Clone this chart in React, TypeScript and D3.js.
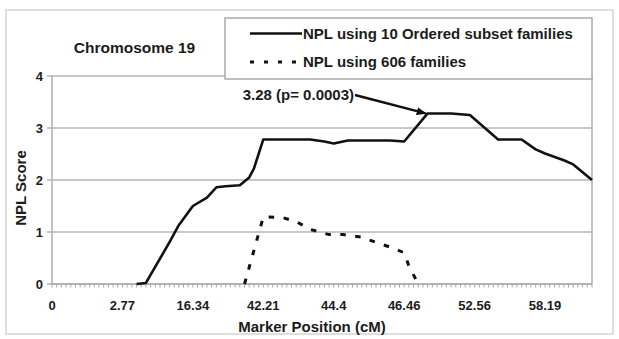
import React from "react";
import * as d3 from "d3";

const categoryCount = 116;
const tickIdx = [0, 15, 30, 45, 60, 75, 90, 105];
const tickLabels = ["0", "2.77", "16.34", "42.21", "44.4", "46.46", "52.56", "58.19"];
const yTicks = [0, 1, 2, 3, 4];

const solidIdx = [18, 20, 25, 27, 30, 33, 35, 37, 40, 42, 43, 45, 55, 58, 60, 63, 72, 75, 80, 85, 89, 95, 100, 103, 105, 109, 111, 115];
const solidVal = [0, 0.02, 0.8, 1.13, 1.5, 1.66, 1.86, 1.88, 1.9, 2.05, 2.22, 2.78, 2.78, 2.74, 2.7, 2.76, 2.76, 2.74, 3.28, 3.28, 3.25, 2.78, 2.78, 2.59, 2.51, 2.38, 2.3, 2.0];

const dashIdx = [41, 45, 49, 52, 55, 59, 62, 66, 69, 73, 75, 76, 78];
const dashVal = [0, 1.29, 1.28, 1.2, 1.05, 0.95, 0.95, 0.9, 0.8, 0.68, 0.6, 0.35, 0];

const seriesNames = ["NPL using 10 Ordered subset families", "NPL using 606 families"];
const peakIndex = 80;
const peakValue = 3.28;
const annotation = "3.28 (p= 0.0003)";

const W = 619;
const H = 339;
const left = 52, right = 592, top = 76, bottom = 284;
const FONT = "'Liberation Sans', Arial, Helvetica, sans-serif";
const GRID = "#b4b4b4";
const TXT = "#1c1c1c";

export default function App() {
  const x = d3.scaleLinear().domain([0, categoryCount - 1]).range([left, right]);
  const y = d3.scaleLinear().domain([0, 4]).range([bottom, top]);
  const line = d3.line<[number, number]>().x((d) => x(d[0])).y((d) => y(d[1]));
  const solidPts = solidIdx.map((v, i) => [v, solidVal[i]] as [number, number]);
  const dashPts = dashIdx.map((v, i) => [v, dashVal[i]] as [number, number]);
  const cats = d3.range(categoryCount);

  const tipX = x(peakIndex) - 2;
  const tipY = y(peakValue);
  const tailX = 355;
  const tailY = 95;

  return (
    <svg width={W} height={H} style={{ position: "absolute", left: 0, top: 0, background: "#fff" }} fontFamily={FONT}>
      <defs>
        <marker id="arr" markerWidth="10" markerHeight="8" refX="9" refY="4" orient="auto" markerUnits="userSpaceOnUse">
          <path d="M0,0 L10,4 L0,8 Z" fill="#111" />
        </marker>
      </defs>
      <rect x={0} y={0} width={W} height={H} fill="#fff" />
      <rect x={6} y={10} width={607} height={324} fill="none" stroke="#d4d4d4" strokeWidth={1.5} />

      {/* gridlines */}
      {yTicks.filter((t) => t > 0).map((t) => (
        <line key={t} x1={left - 5} x2={right} y1={y(t)} y2={y(t)} stroke={GRID} strokeWidth={1.6} />
      ))}
      <line x1={left - 5} x2={left} y1={y(0)} y2={y(0)} stroke={GRID} strokeWidth={1.6} />
      {/* plot border */}
      <line x1={left} x2={left} y1={top} y2={bottom} stroke={GRID} strokeWidth={1.6} />
      <line x1={right} x2={right} y1={top} y2={bottom} stroke={GRID} strokeWidth={1.6} />
      <line x1={left} x2={right} y1={bottom} y2={bottom} stroke="#9a9a9a" strokeWidth={1.6} />
      {cats.map((c) => (
        <line key={c} x1={x(c)} x2={x(c)} y1={bottom} y2={bottom + 3.5} stroke="#a8a8a8" strokeWidth={1} />
      ))}

      {/* y tick labels */}
      {yTicks.map((t) => (
        <text key={t} x={43} y={y(t)} dy="0.35em" textAnchor="end" fontSize={13} fontWeight="bold" fill={TXT}>
          {t}
        </text>
      ))}
      {/* x tick labels */}
      {tickIdx.map((c, i) => (
        <text key={c} x={x(c)} y={309.5} textAnchor="middle" fontSize={13} fontWeight="bold" fill={TXT}>
          {tickLabels[i]}
        </text>
      ))}

      <text x={312} y={331.5} textAnchor="middle" fontSize={15} fontWeight="bold" fill={TXT}>
        Marker Position (cM)
      </text>
      <text transform={`translate(26,188) rotate(-90)`} textAnchor="middle" fontSize={15} fontWeight="bold" fill={TXT}>
        NPL Score
      </text>

      {/* series */}
      <path d={line(solidPts) || ""} fill="none" stroke="#111" strokeWidth={2.6} strokeLinejoin="round" />
      <path d={line(dashPts) || ""} fill="none" stroke="#111" strokeWidth={3} strokeDasharray="5.5,9.5" />

      {/* annotation */}
      <text x={tailX - 1} y={tailY + 4.5} textAnchor="end" fontSize={15} fontWeight="bold" fill={TXT}>
        {annotation}
      </text>
      <line x1={tailX} y1={tailY} x2={tipX} y2={tipY} stroke="#111" strokeWidth={2.4} markerEnd="url(#arr)" />

      {/* title */}
      <text x={134.5} y={52.5} textAnchor="middle" fontSize={15.5} fontWeight="bold" fill={TXT}>
        Chromosome 19
      </text>

      {/* legend */}
      <rect x={225} y={18} width={367} height={61} fill="#fff" stroke="#aaa" strokeWidth={1.5} />
      <line x1={250} x2={302} y1={33.5} y2={33.5} stroke="#111" strokeWidth={2.6} />
      <text x={303} y={33.5} dy="0.35em" fontSize={15} fontWeight="bold" fill={TXT}>
        {seriesNames[0]}
      </text>
      <line x1={250} x2={302} y1={62} y2={62} stroke="#111" strokeWidth={3} strokeDasharray="4,10" />
      <text x={303} y={62} dy="0.35em" fontSize={15} fontWeight="bold" fill={TXT}>
        {seriesNames[1]}
      </text>
    </svg>
  );
}
